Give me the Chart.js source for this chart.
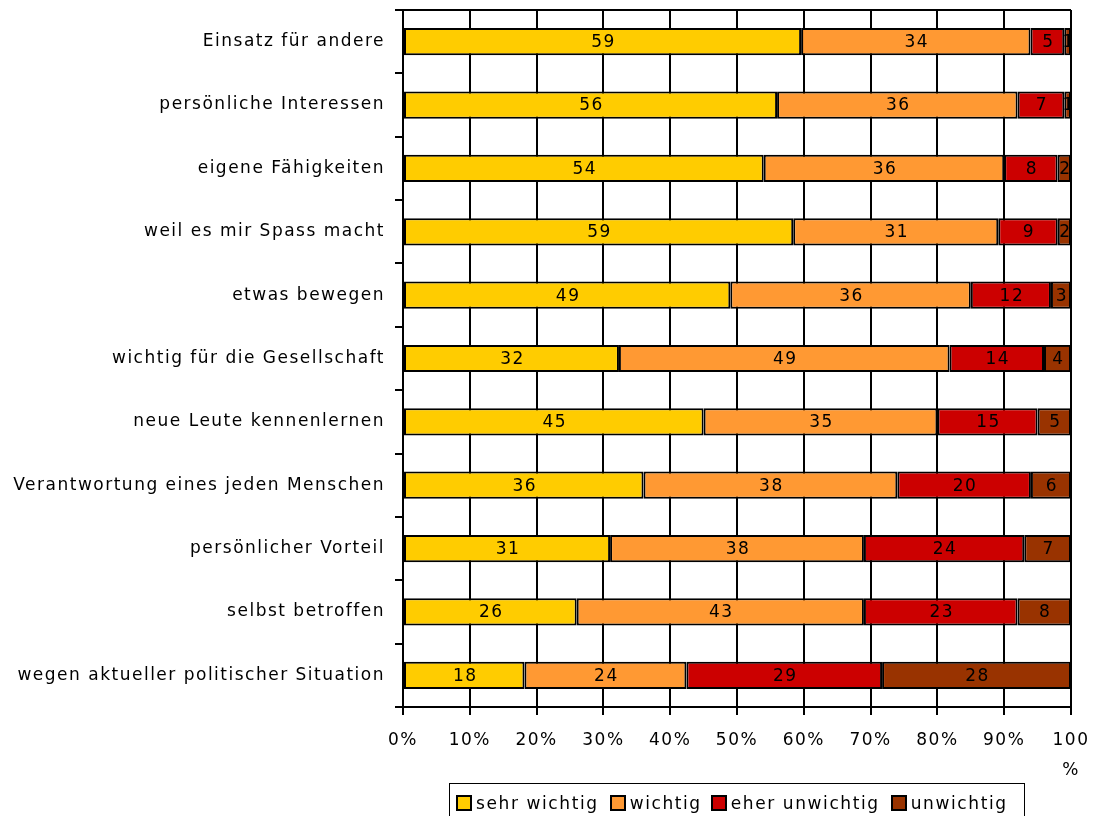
<!DOCTYPE html>
<html>
<head>
<meta charset="utf-8">
<script src="https://cdn.jsdelivr.net/npm/chart.js@4.4.1/dist/chart.umd.min.js"></script>
<style>
  html, body { margin: 0; padding: 0; background: #fff; overflow: hidden; }
  #wrap { position: relative; width: 1093px; height: 816px; }
  #legend {
    position: absolute; left: 449px; top: 783px; height: 40px; width: 576px;
    border: 1px solid #000; box-sizing: border-box;
    display: flex; align-items: flex-start; padding: 9px 0 0 6px;
    font-family: "DejaVu Sans"; font-size: 17px; letter-spacing: 1.6px; color: #000;
  }
  #legend .item { display: flex; align-items: center; margin-right: 11px; }
  #legend .item:nth-child(2) { margin-right: 9px; }
  #legend .box { width: 12px; height: 12px; border: 2px solid #000; margin-right: 4px; }
</style>
</head>
<body>
<div id="wrap">
  <canvas id="myChart" width="1093" height="816"></canvas>
  <div id="legend"></div>
</div>
<script>
const categories = [
  'Einsatz für andere',
  'persönliche Interessen',
  'eigene Fähigkeiten',
  'weil es mir Spass macht',
  'etwas bewegen',
  'wichtig für die Gesellschaft',
  'neue Leute kennenlernen',
  'Verantwortung eines jeden Menschen',
  'persönlicher Vorteil',
  'selbst betroffen',
  'wegen aktueller politischer Situation'
];
const sehrWichtig   = [59, 56, 54, 59, 49, 32, 45, 36, 31, 26, 18];
const wichtig       = [34, 36, 36, 31, 36, 49, 35, 38, 38, 43, 24];
const eherUnwichtig = [5, 7, 8, 9, 12, 14, 15, 20, 24, 23, 29];
const unwichtig     = [1, 1, 2, 2, 3, 4, 5, 6, 7, 8, 28];
const seriesNames = ['sehr wichtig', 'wichtig', 'eher unwichtig', 'unwichtig'];
const xTickLabels = ['0%', '10%', '20%', '30%', '40%', '50%', '60%', '70%', '80%', '90%', ['100', '%']];

const colors = ['#FFCC00', '#FF9933', '#CC0000', '#993300'];
const rawSeries = [sehrWichtig, wichtig, eherUnwichtig, unwichtig];

// 100% stacked: each row scaled to its own sum
const rowSums = categories.map((c, i) => rawSeries.reduce((s, arr) => s + arr[i], 0));

const FONT = { family: 'DejaVu Sans', size: 17 };

const spacingPlugin = {
  id: 'spacing',
  beforeUpdate(chart) { chart.ctx.letterSpacing = '1.5px'; },
  beforeDraw(chart) { chart.ctx.letterSpacing = '1.5px'; }
};

const topLinePlugin = {
  id: 'topLine',
  afterDraw(chart) {
    const a = chart.chartArea;
    const ctx = chart.ctx;
    ctx.save();
    ctx.strokeStyle = '#000';
    ctx.lineWidth = 2;
    ctx.beginPath();
    ctx.moveTo(a.left, a.top);
    ctx.lineTo(a.right, a.top);
    ctx.stroke();
    ctx.restore();
  }
};

const valueLabels = {
  id: 'valueLabels',
  afterDatasetsDraw(chart) {
    const ctx = chart.ctx;
    ctx.save();
    ctx.font = FONT.size + 'px ' + FONT.family;
    ctx.fillStyle = '#000';
    ctx.textAlign = 'center';
    ctx.textBaseline = 'middle';
    chart.data.datasets.forEach((ds, di) => {
      chart.getDatasetMeta(di).data.forEach((bar, i) => {
        const cx = (bar.x + bar.base) / 2;
        ctx.fillText(String(ds.raw[i]), cx + 1, bar.y + 1);
      });
    });
    ctx.restore();
  }
};

const data = {
  labels: categories,
  datasets: rawSeries.map((arr, k) => ({
    label: seriesNames[k],
    raw: arr,
    data: arr.map((v, i) => v / rowSums[i] * 100),
    backgroundColor: colors[k],
    borderColor: '#000',
    borderWidth: 2,
    borderSkipped: false,
    barPercentage: 0.43,
    categoryPercentage: 1
  }))
};

const config = {
  type: 'bar',
  data: data,
  options: {
    indexAxis: 'y',
    responsive: false,
    animation: false,
    devicePixelRatio: 1,
    layout: { padding: { top: 10, right: 22, left: 0, bottom: 0 } },
    plugins: {
      legend: { display: false },
      tooltip: { enabled: false }
    },
    scales: {
      x: {
        stacked: true,
        min: 0,
        max: 100,
        ticks: {
          stepSize: 10,
          color: '#000',
          font: { family: FONT.family, size: FONT.size, lineHeight: 1.8 },
          padding: 10,
          maxRotation: 0,
          autoSkip: false,
          callback: (v, i) => xTickLabels[i]
        },
        grid: { color: '#000', lineWidth: 2, tickLength: 8 },
        border: { color: '#000', width: 2 },
        afterFit(scale) {
          scale.height = 816 - 707;
          scale.paddingLeft = 0;
          scale.paddingRight = 0;
        }
      },
      y: {
        stacked: true,
        ticks: {
          color: '#000',
          font: { family: FONT.family, size: FONT.size },
          padding: 10,
          autoSkip: false
        },
        grid: { color: '#000', lineWidth: 2, tickLength: 8, drawOnChartArea: false, offset: true },
        border: { color: '#000', width: 2 },
        afterFit(scale) {
          scale.width = 403;
          scale.paddingTop = 0;
          scale.paddingBottom = 0;
        }
      }
    }
  },
  plugins: [spacingPlugin, topLinePlugin, valueLabels]
};

const myChart = new Chart(document.getElementById('myChart'), config);

// legend in html
const legendEl = document.getElementById('legend');
seriesNames.forEach((name, k) => {
  const item = document.createElement('div');
  item.className = 'item';
  const box = document.createElement('span');
  box.className = 'box';
  box.style.background = colors[k];
  const txt = document.createElement('span');
  txt.textContent = name;
  item.appendChild(box);
  item.appendChild(txt);
  legendEl.appendChild(item);
});
</script>
</body>
</html>
